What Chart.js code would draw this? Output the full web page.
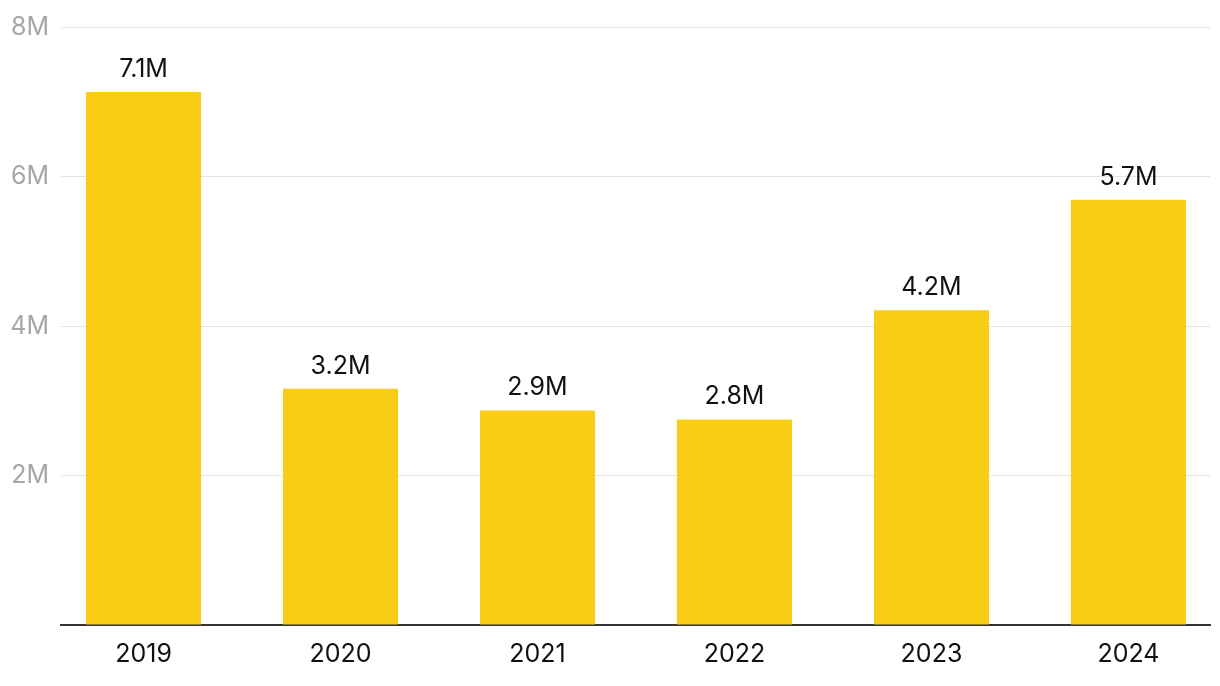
<!DOCTYPE html>
<html>
<head>
<meta charset="utf-8">
<script src="https://cdn.jsdelivr.net/npm/chart.js@4"></script>
<style>
  html, body { margin: 0; padding: 0; background: #fff; }
  #wrap { width: 1220px; height: 686px; }
</style>
</head>
<body>
<div id="wrap"><canvas id="barChart"></canvas></div>
<script>
const categories = ['2019', '2020', '2021', '2022', '2023', '2024'];
const values = [7130000, 3160000, 2870000, 2750000, 4210000, 5690000];
const yTicks = [0, 2000000, 4000000, 6000000, 8000000];

function fmtM(v) {
    return (v / 1e6).toFixed(1) + 'M';
}

// etiquetas encima de cada barra
const barLabels = {
    id: 'barLabels',
    afterDatasetsDraw(chart) {
        const ctx = chart.ctx;
        const meta = chart.getDatasetMeta(0);
        ctx.save();
        ctx.font = '25px Inter';
        ctx.fillStyle = '#111';
        ctx.textAlign = 'center';
        ctx.textBaseline = 'alphabetic';
        meta.data.forEach((bar, i) => {
            ctx.fillText(fmtM(values[i]), bar.x, bar.y - 15);
        });
        ctx.restore();
    }
};

document.addEventListener("DOMContentLoaded", function () {
    Chart.defaults.font.family = 'Inter';
    const ctx = document.getElementById('barChart').getContext('2d');

    new Chart(ctx, {
        type: 'bar',
        data: {
            datasets: [{
                data: values.map((v, i) => ({ x: i, y: v })),
                backgroundColor: '#F9CC16',
                barPercentage: 0.584,
                categoryPercentage: 1
            }]
        },
        options: {
            responsive: true,
            maintainAspectRatio: false,
            animation: false,
            layout: { padding: { top: 25, right: 10, bottom: 0, left: 0 } },
            plugins: {
                legend: { display: false },
                tooltip: { enabled: false }
            },
            scales: {
                x: {
                    type: 'linear',
                    offset: false,
                    min: -0.419,
                    max: 5.414,
                    afterBuildTicks: (scale) => {
                        scale.ticks = categories.map((c, i) => ({ value: i }));
                    },
                    afterFit: (scale) => { scale.height = 61; },
                    grid: { display: false, drawTicks: false, offset: false },
                    border: { display: true, color: '#333', width: 2 },
                    ticks: {
                        autoSkip: false,
                        maxRotation: 0,
                        padding: 14,
                        color: '#111',
                        font: { size: 25 },
                        callback: (v) => categories[v]
                    }
                },
                y: {
                    min: 0,
                    max: 8000000,
                    afterBuildTicks: (scale) => {
                        scale.ticks = yTicks.map(v => ({ value: v }));
                    },
                    afterFit: (scale) => { scale.width = 61; },
                    grid: { color: '#e3e3e3', lineWidth: 1, drawTicks: false },
                    border: { display: false },
                    ticks: {
                        padding: 12,
                        color: '#a6a6a6',
                        font: { size: 25 },
                        callback: (v) => v === 0 ? '' : (v / 1e6) + 'M'
                    }
                }
            }
        },
        plugins: [barLabels]
    });
});
</script>
</body>
</html>
